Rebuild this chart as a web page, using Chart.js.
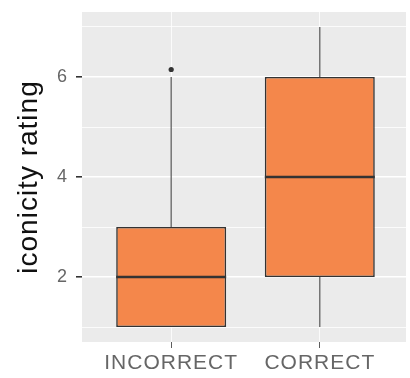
<!DOCTYPE html>
<html>
<head>
<meta charset="utf-8">
<script src="https://cdn.jsdelivr.net/npm/chart.js@4"></script>
<style>
  body { margin: 0; background: #fff; }
</style>
</head>
<body>
<canvas id="c" width="410" height="378"></canvas>
<script>
const categories = ['INCORRECT', 'CORRECT'];
const lowWhisker = [1, 1];
const q1 = [1, 2];
const median = [2, 4];
const q3 = [3, 6];
const highWhisker = [6, 7];
const outliers = [{ cat: 0, value: 6.15 }];
const yTicks = [1, 2, 3, 4, 5, 6, 7];
const yLabels = [2, 4, 6];

const font = '"Liberation Sans", Arial, sans-serif';

const boxPlugin = {
    id: 'boxParts',
    beforeDraw(chart) {
        const ctx = chart.ctx;
        const a = chart.chartArea;
        ctx.letterSpacing = '1px';
        ctx.save();
        ctx.fillStyle = '#EBEBEB';
        ctx.fillRect(a.left, a.top, a.right - a.left, a.bottom - a.top);
        ctx.restore();
    },
    beforeDatasetsDraw(chart) {
        const ctx = chart.ctx;
        const x = chart.scales.x, y = chart.scales.y;
        ctx.save();
        ctx.strokeStyle = '#555';
        ctx.lineWidth = 1.2;
        categories.forEach((c, i) => {
            const px = x.getPixelForValue(i + 1);
            ctx.beginPath();
            ctx.moveTo(px, y.getPixelForValue(lowWhisker[i]));
            ctx.lineTo(px, y.getPixelForValue(q1[i]));
            ctx.moveTo(px, y.getPixelForValue(q3[i]));
            ctx.lineTo(px, y.getPixelForValue(highWhisker[i]));
            ctx.stroke();
        });
        ctx.restore();
    },
    afterDatasetsDraw(chart) {
        const ctx = chart.ctx;
        const y = chart.scales.y;
        const meta = chart.getDatasetMeta(0);
        ctx.save();
        ctx.strokeStyle = '#333';
        ctx.lineWidth = 2.5;
        categories.forEach((c, i) => {
            const bar = meta.data[i];
            const py = y.getPixelForValue(median[i]);
            ctx.beginPath();
            ctx.moveTo(bar.x - bar.width / 2, py);
            ctx.lineTo(bar.x + bar.width / 2, py);
            ctx.stroke();
        });
        ctx.restore();
    }
};

new Chart(document.getElementById('c'), {
    data: {
        datasets: [{
            type: 'bar',
            data: categories.map((c, i) => ({ x: i + 1, y: [q1[i], q3[i]] })),
            backgroundColor: '#F4874B',
            borderColor: '#333',
            borderWidth: 1.6,
            borderSkipped: false,
            categoryPercentage: 1,
            barPercentage: 0.74
        }, {
            type: 'scatter',
            data: outliers.map(o => ({ x: o.cat + 1, y: o.value })),
            backgroundColor: '#333',
            borderWidth: 0,
            pointRadius: 2.6
        }]
    },
    options: {
        responsive: false,
        animation: false,
        devicePixelRatio: 1,
        layout: { padding: { top: 12, right: 0, left: 0, bottom: 0 } },
        plugins: {
            legend: { display: false },
            tooltip: { enabled: false }
        },
        scales: {
            x: {
                type: 'linear',
                min: 0.4,
                max: 2.58,
                offset: false,
                afterBuildTicks: s => { s.ticks = categories.map((c, i) => ({ value: i + 1 })); },
                afterFit: s => { s.height = 36; s.paddingLeft = 0; s.paddingRight = 0; },
                border: { display: false },
                grid: { offset: false, color: '#fff', lineWidth: 0.8, tickColor: '#333', tickLength: 6 },
                ticks: {
                    callback: v => categories[v - 1],
                    color: '#666',
                    font: { family: font, size: 21 },
                    padding: 3,
                    maxRotation: 0
                }
            },
            y: {
                min: 0.7,
                max: 7.3,
                afterBuildTicks: s => { s.ticks = yTicks.map(v => ({ value: v })); },
                afterFit: s => { s.width = 82; s.paddingTop = 0; s.paddingBottom = 0; },
                border: { display: false },
                grid: {
                    color: '#fff',
                    lineWidth: c => yLabels.includes(c.tick.value) ? 1.6 : 0.8,
                    tickColor: c => yLabels.includes(c.tick.value) ? '#333' : 'rgba(0,0,0,0)',
                    tickLength: 6
                },
                ticks: {
                    callback: v => yLabels.includes(v) ? String(v) : '',
                    color: '#666',
                    font: { family: font, size: 18 },
                    padding: 8
                },
                title: {
                    display: true,
                    text: 'iconicity rating',
                    color: '#111',
                    font: { family: font, size: 28 },
                    padding: { top: 12, bottom: 0 }
                }
            }
        }
    },
    plugins: [boxPlugin]
});
</script>
</body>
</html>
